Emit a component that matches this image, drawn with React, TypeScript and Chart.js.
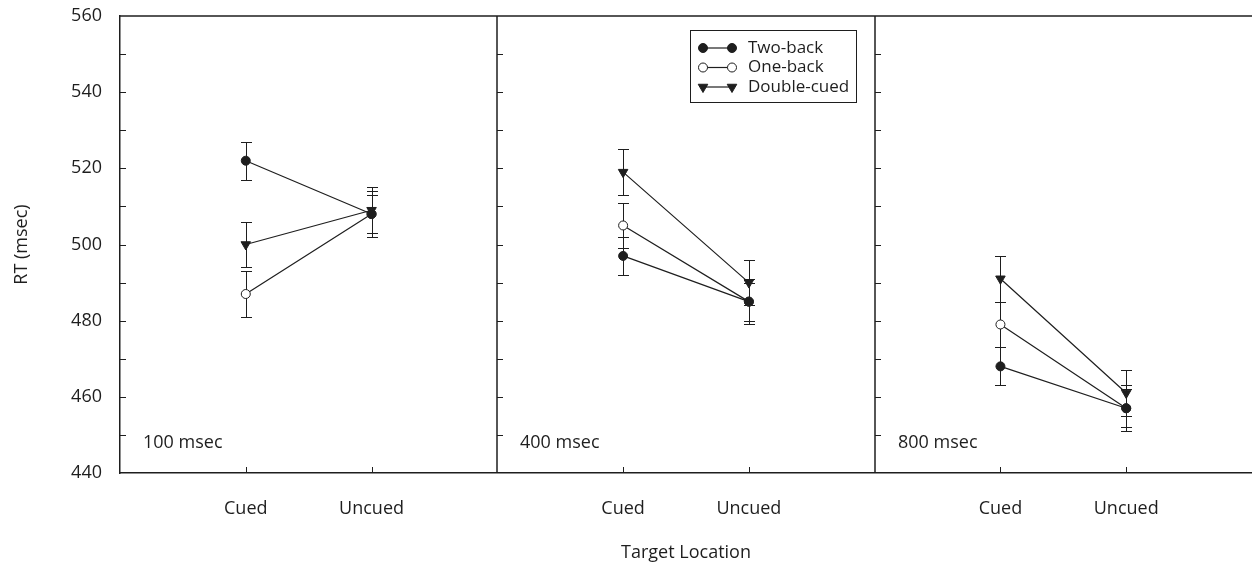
import { useEffect, useRef } from 'react';
import { Chart, registerables } from 'chart.js';

Chart.register(...registerables);

// ---- data ----
const panels = ['100 msec', '400 msec', '800 msec'];
const locations = ['Cued', 'Uncued'];
const seriesNames = ['Two-back', 'One-back', 'Double-cued'];
// values listed per panel as [cued, uncued]
const twoBack = [522, 508, 497, 485, 468, 457];
const twoBackSE = [5, 5, 5, 5, 5, 5];
const oneBack = [487, 508, 505, 485, 479, 457];
const oneBackSE = [6, 6, 6, 6, 6, 6];
const doubleCued = [500, 509, 519, 490, 491, 461];
const doubleCuedSE = [6, 6, 6, 6, 6, 6];
const yMin = 440;
const yMax = 560;
const yLabelStep = 20;
const yMinorStep = 10;

const seriesValues = [twoBack, oneBack, doubleCued];
const seriesSE = [twoBackSE, oneBackSE, doubleCuedSE];

const FONT = "'Open Sans', 'Noto Sans', sans-serif";
const INK = '#1e1e1e';

// x position of (panel, location) on a linear axis 0..9
const xPos = (p: number, l: number) => p * 3 + 1 + l;

function buildData(values: number[]) {
  const out: { x: number; y: number | null }[] = [];
  panels.forEach((_, p) => {
    locations.forEach((_, l) => out.push({ x: xPos(p, l), y: values[p * 2 + l] }));
    if (p < panels.length - 1) out.push({ x: p * 3 + 3, y: null });
  });
  return out;
}

const styles = [
  { pointStyle: 'circle', bg: INK, radius: 4.5, rotation: 0 },
  { pointStyle: 'circle', bg: '#ffffff', radius: 4.5, rotation: 0 },
  { pointStyle: 'triangle', bg: INK, radius: 5.5, rotation: 180 },
];

const decorPlugin = {
  id: 'decor',
  beforeDatasetsDraw(chart: any) {
    const { ctx } = chart;
    const xs = chart.scales.x;
    const ys = chart.scales.y;
    ctx.save();
    ctx.strokeStyle = INK;
    ctx.lineWidth = 1;
    // error bars
    seriesValues.forEach((vals, s) => {
      vals.forEach((v, i) => {
        const p = Math.floor(i / 2);
        const l = i % 2;
        const x = Math.round(xs.getPixelForValue(xPos(p, l))) + 0.5;
        const se = seriesSE[s][i];
        const yt = Math.round(ys.getPixelForValue(v + se)) + 0.5;
        const yb = Math.round(ys.getPixelForValue(v - se)) + 0.5;
        ctx.beginPath();
        ctx.moveTo(x, yt);
        ctx.lineTo(x, yb);
        ctx.moveTo(x - 5.5, yt);
        ctx.lineTo(x + 5.5, yt);
        ctx.moveTo(x - 5.5, yb);
        ctx.lineTo(x + 5.5, yb);
        ctx.stroke();
      });
    });
    ctx.restore();
  },
  afterDraw(chart: any) {
    const { ctx, chartArea } = chart;
    const xs = chart.scales.x;
    const ys = chart.scales.y;
    const { left, right, top, bottom } = chartArea;
    ctx.save();
    ctx.strokeStyle = INK;
    // top border
    ctx.lineWidth = 1.5;
    ctx.beginPath();
    ctx.moveTo(left, top);
    ctx.lineTo(right, top);
    ctx.stroke();
    // panel dividers
    const dividerXs = [left];
    for (let p = 1; p < panels.length; p++) {
      const dx = Math.round(xs.getPixelForValue(p * 3));
      dividerXs.push(dx);
      ctx.beginPath();
      ctx.moveTo(dx, top);
      ctx.lineTo(dx, bottom);
      ctx.stroke();
    }
    // inward y ticks
    ctx.lineWidth = 1;
    for (let v = yMin + yMinorStep; v < yMax; v += yMinorStep) {
      const y = Math.round(ys.getPixelForValue(v)) + 0.5;
      dividerXs.forEach((dx) => {
        ctx.beginPath();
        ctx.moveTo(dx, y);
        ctx.lineTo(dx + 6, y);
        ctx.stroke();
      });
    }
    // inward x ticks
    panels.forEach((_, p) => {
      locations.forEach((_, l) => {
        const x = Math.round(xs.getPixelForValue(xPos(p, l))) + 0.5;
        ctx.beginPath();
        ctx.moveTo(x, bottom);
        ctx.lineTo(x, bottom - 6);
        ctx.stroke();
      });
    });
    // panel labels
    ctx.fillStyle = INK;
    ctx.font = `18px ${FONT}`;
    ctx.textBaseline = 'middle';
    ctx.textAlign = 'left';
    panels.forEach((name, p) => {
      ctx.fillText(name, dividerXs[p] + 23, ys.getPixelForValue(448));
    });
    // legend
    const bx = 690.5;
    const by = 30.5;
    const bw = 166;
    const bh = 72;
    ctx.fillStyle = '#ffffff';
    ctx.fillRect(bx, by, bw, bh);
    ctx.lineWidth = 1;
    ctx.strokeRect(bx, by, bw, bh);
    const rowY = [48, 67.5, 87];
    seriesNames.forEach((name, s) => {
      const y = rowY[s];
      const x1 = 703;
      const x2 = 732;
      ctx.strokeStyle = INK;
      ctx.lineWidth = 1.2;
      ctx.beginPath();
      ctx.moveTo(x1, y);
      ctx.lineTo(x2, y);
      ctx.stroke();
      const st = styles[s];
      [x1, x2].forEach((px) => {
        ctx.beginPath();
        if (st.pointStyle === 'triangle') {
          const r = st.radius;
          ctx.moveTo(px - r * 0.87, y - r * 0.5);
          ctx.lineTo(px + r * 0.87, y - r * 0.5);
          ctx.lineTo(px, y + r);
          ctx.closePath();
        } else {
          ctx.arc(px, y, st.radius, 0, Math.PI * 2);
        }
        ctx.fillStyle = st.bg;
        ctx.fill();
        ctx.lineWidth = 1;
        ctx.stroke();
      });
      ctx.fillStyle = INK;
      ctx.font = `17px ${FONT}`;
      ctx.textAlign = 'left';
      ctx.textBaseline = 'middle';
      ctx.fillText(name, 748, y);
    });
    ctx.restore();
  },
};

export default function App() {
  const ref = useRef<HTMLCanvasElement | null>(null);
  useEffect(() => {
    document.body.style.margin = '0';
    if (!ref.current) return;
    Chart.defaults.font.family = FONT;
    Chart.defaults.color = INK;
    const chart = new Chart(ref.current, {
      type: 'line',
      data: {
        datasets: seriesNames.map((name, s) => ({
          label: name,
          data: buildData(seriesValues[s]),
          borderColor: INK,
          borderWidth: 1.2,
          pointStyle: styles[s].pointStyle as any,
          pointRadius: styles[s].radius,
          pointRotation: styles[s].rotation,
          pointBackgroundColor: styles[s].bg,
          pointBorderColor: INK,
          pointBorderWidth: 1,
          spanGaps: false,
          fill: false,
          tension: 0,
          clip: false as any,
        })),
      },
      options: {
        animation: false,
        responsive: false,
        events: [],
        layout: { autoPadding: false, padding: { top: 16, right: 0, left: 0, bottom: 0 } },
        plugins: {
          legend: { display: false },
          tooltip: { enabled: false },
        },
        scales: {
          x: {
            type: 'linear',
            min: 0,
            max: panels.length * 3,
            afterBuildTicks: (scale: any) => {
              const t: { value: number }[] = [];
              panels.forEach((_, p) => locations.forEach((_, l) => t.push({ value: xPos(p, l) })));
              scale.ticks = t;
            },
            afterFit: (scale: any) => {
              scale.height = 91;
              scale.paddingLeft = 0;
              scale.paddingRight = 0;
            },
            ticks: {
              autoSkip: false,
              maxRotation: 0,
              padding: 25,
              font: { size: 18 },
              color: INK,
              callback: (v: any) => locations[(Number(v) - 1) % 3] ?? '',
            },
            grid: { display: false, drawTicks: false },
            border: { display: true, color: INK, width: 1.5 },
            title: {
              display: true,
              text: 'Target Location',
              font: { size: 18 },
              color: INK,
              padding: { top: 0, bottom: 0 },
            },
          },
          y: {
            min: yMin,
            max: yMax,
            afterFit: (scale: any) => {
              scale.width = 120;
              scale.paddingTop = 0;
              scale.paddingBottom = 0;
            },
            ticks: {
              stepSize: yLabelStep,
              padding: 18,
              font: { size: 18 },
              color: INK,
            },
            grid: { display: false, drawTicks: false },
            border: { display: true, color: INK, width: 1.5 },
            title: {
              display: true,
              text: 'RT (msec)',
              font: { size: 18 },
              color: INK,
              padding: { top: 11, bottom: 12 },
            },
          },
        },
      },
      plugins: [decorPlugin],
    });
    return () => chart.destroy();
  }, []);
  return <canvas ref={ref} width={1252} height={564} style={{ display: 'block' }} />;
}
